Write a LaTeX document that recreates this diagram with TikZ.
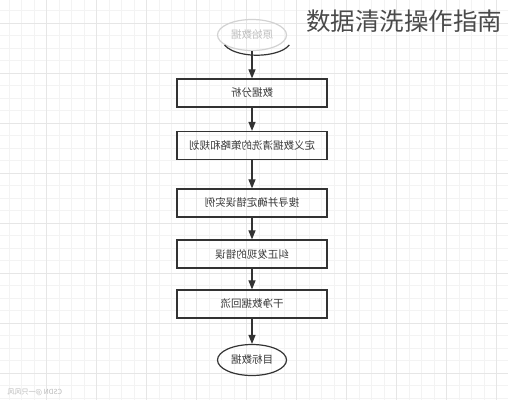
\documentclass[tikz,border=0pt]{standalone}
\usepackage{fontspec}
\newfontfamily\cjk{Noto Sans CJK SC}
\usetikzlibrary{arrows.meta,shapes.geometric}
\definecolor{gridminor}{HTML}{F3F3F3}
\definecolor{gridmajor}{HTML}{E6E6E6}
\definecolor{linecol}{HTML}{333333}
\definecolor{textcol}{HTML}{3A3A3A}
\definecolor{titlecol}{HTML}{4A4A4A}
\tikzset{
  stepbox/.style={draw=linecol,line width=1.2pt,minimum width=150pt,minimum height=28pt,inner sep=0pt,font=\cjk\fontsize{10.5}{12}\selectfont,text=textcol},
  termnode/.style={ellipse,draw=linecol,line width=1.2pt,minimum width=69pt,minimum height=31pt,inner sep=0pt,font=\cjk\fontsize{10.5}{12}\selectfont,text=textcol},
  flow/.style={draw=linecol,line width=1.1pt,-{Triangle[length=9pt,width=7pt]}}
}
\begin{document}
\begin{tikzpicture}[x=1pt,y=-1pt]
\useasboundingbox (0,0) rectangle (508,400);
\fill[white] (0,0) rectangle (508,400);
% grid
\foreach \i in {0,...,41} {\draw[gridminor,line width=0.6pt] (-3.5+12.5*\i,0) -- (-3.5+12.5*\i,400);}
\foreach \i in {0,...,32} {\draw[gridminor,line width=0.6pt] (0,-2+12.5*\i) -- (508,-2+12.5*\i);}
\foreach \i in {0,...,10} {\draw[gridmajor,line width=0.7pt] (-4+50*\i,0) -- (-4+50*\i,400);}
\foreach \i in {0,...,8} {\draw[gridmajor,line width=0.7pt] (0,-27+50*\i) -- (508,-27+50*\i);}
% title
\node[font=\cjk\fontsize{24.5}{27}\selectfont,text=titlecol,anchor=center] (title) at (404,21) {数据清洗操作指南};
% nodes
\node[termnode,draw=gray!35,text=gray!50] (start) at (252,35) {\reflectbox{原始数据}};
\draw[linecol,line width=1.2pt] (start.200) arc[start angle=200,end angle=340,x radius=34.5pt,y radius=15.5pt];
\node[stepbox] (s1) at (252,93) {\reflectbox{数据分析}};
\node[stepbox] (s2) at (252,145.5) {\reflectbox{定义数据清洗的策略和规划}};
\node[stepbox] (s3) at (252,203) {\reflectbox{搜寻并确定错误实例}};
\node[stepbox] (s4) at (252,254) {\reflectbox{纠正发现的错误}};
\node[stepbox] (s5) at (252,304) {\reflectbox{干净数据回流}};
\node[termnode] (end) at (252,360) {\reflectbox{目标数据}};
% arrows
\draw[flow] (start) -- (s1);
\draw[flow] (s1) -- (s2);
\draw[flow] (s2) -- (s3);
\draw[flow] (s3) -- (s4);
\draw[flow] (s4) -- (s5);
\draw[flow] (s5) -- (end);
% watermark
\node[font=\cjk\fontsize{7}{8}\selectfont,text=gray!55,anchor=west] (wm) at (4,392) {\reflectbox{CSDN @一只风风}};
\end{tikzpicture}
\end{document}
